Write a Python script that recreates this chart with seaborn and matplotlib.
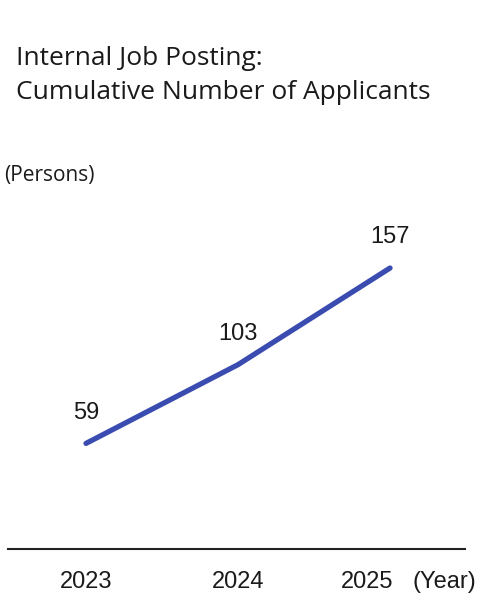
import matplotlib
matplotlib.use("Agg")
import matplotlib.pyplot as plt
import matplotlib.transforms as mtransforms
import seaborn as sns
import pandas as pd

years = [2023, 2024, 2025]
applicants = [59, 103, 157]
year_labels = ["2023", "2024", "2025"]

title = "Internal Job Posting:\nCumulative Number of Applicants"
unit_label = "(Persons)"
x_unit = "(Year)"

df = pd.DataFrame({"year": years, "applicants": applicants})

sns.set_theme(style="white")
plt.rcParams['font.family'] = ['Liberation Sans', 'DejaVu Sans']

fig = plt.figure(figsize=(4.92, 6.0), dpi=100)
ax = fig.add_axes([8/492, 1-549/600, (465-8)/492, (549-200)/600])

sns.lineplot(data=df, x="year", y="applicants", ax=ax, color="#3a4cb0",
             linewidth=3.8, solid_capstyle="round")

for x, y in zip(years, applicants):
    ax.annotate(str(y), (x, y), xytext=(0, 22), textcoords="offset points",
                ha="center", va="center", fontsize=17, color="#1a1a1a")

ax.set_xlim(2022.487, 2025.493)
ax.set_ylim(0, 195)
ax.set_xticks(years)
ax.set_xticklabels(year_labels, fontsize=17, color="#1a1a1a")
ax.set_yticks([])
ax.set_xlabel("")
ax.set_ylabel("")
ax.tick_params(axis="x", length=0, pad=16)
for s in ["top", "left", "right"]:
    ax.spines[s].set_visible(False)
ax.spines["bottom"].set_color("#222222")
ax.spines["bottom"].set_linewidth(1.5)

# shift the last year label left to leave room for the unit
last = ax.get_xticklabels()[-1]
last.set_transform(last.get_transform() +
                   mtransforms.ScaledTranslation(-23/100, 0, fig.dpi_scale_trans))

fig.text(16/492, 1-46/600, title, ha="left", va="top", fontsize=19,
         family=["Open Sans", "DejaVu Sans"], color="#1a1a1a", linespacing=1.47)
fig.text(4/492, 1-175/600, unit_label, ha="left", va="center", fontsize=15,
         family=["Open Sans", "DejaVu Sans"], color="#1a1a1a")
fig.text(412/492, 1-582/600, x_unit, ha="left", va="center", fontsize=17, color="#1a1a1a")

fig.savefig("out.png", dpi=100)
